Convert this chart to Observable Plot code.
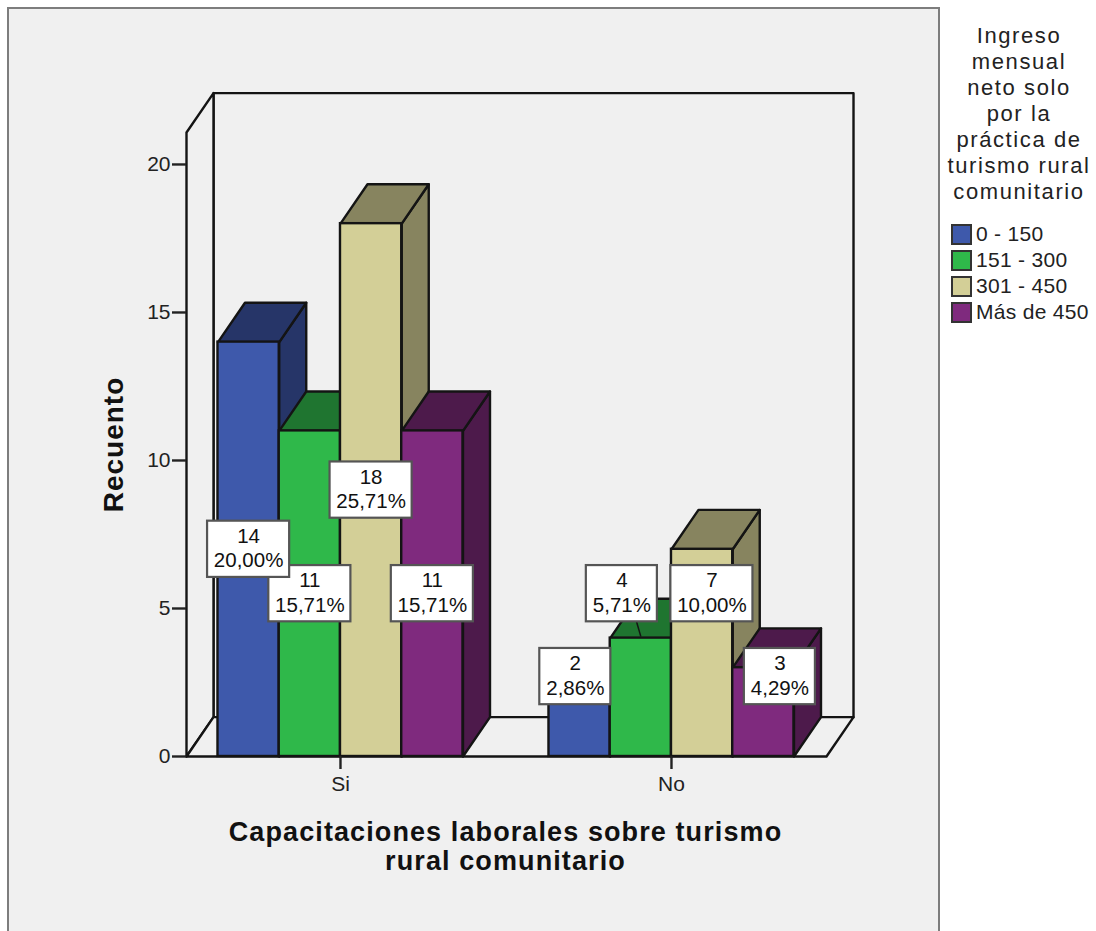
<!DOCTYPE html>
<html>
<head>
<meta charset="utf-8">
<script src="https://cdn.jsdelivr.net/npm/d3@7"></script>
<script src="https://cdn.jsdelivr.net/npm/@observablehq/plot@0.6"></script>
<style>
  html, body { margin: 0; padding: 0; background: #fff; }
  #wrap { position: relative; width: 1096px; height: 931px; overflow: hidden; font-family: "Liberation Sans", Arial, sans-serif; }
  #panel { position: absolute; left: 7px; top: 7px; width: 929px; height: 925px; background: #f0f0f0; border: 2px solid #7d7d7d; box-sizing: content-box; }
  #chart { position: absolute; left: 0; top: 0; }
  #chart svg { display: block; }
  #legend { position: absolute; left: 942px; top: 23px; width: 154px; color: #222; font-size: 21px; }
  #legend .title { text-align: center; line-height: 26px; font-size: 22px; letter-spacing: 1.6px; white-space: nowrap; margin-bottom: 16px; }
  #legend .row { display: flex; align-items: center; height: 26px; margin-left: 9px; letter-spacing: .3px; white-space: nowrap; }
  #legend .sw { width: 17px; height: 17px; border: 2.5px solid #333; margin-right: 4px; flex: none; }
</style>
</head>
<body>
<div id="wrap">
  <div id="panel"></div>
  <div id="chart"></div>
  <div id="legend"></div>
</div>
<script>
const groups = ["Si", "No"];
const groupCenters = [0, 5.404];
const series = ["0 - 150", "151 - 300", "301 - 450", "Más de 450"];
const countsSi = [14, 11, 18, 11];
const countsNo = [2, 4, 7, 3];
const pctSi = ["20,00%", "15,71%", "25,71%", "15,71%"];
const pctNo = ["2,86%", "5,71%", "10,00%", "4,29%"];
const labelShiftSi = [0, 0, 0, 0];
const labelShiftNo = [-0.07, -0.31, 0.16, 0.27];
const labelYNo = [2.7, 5.5, 5.5, 2.7];
const frontColors = ["#3e59ab", "#2fb84a", "#d3cf97", "#7f2a7e"];
const shadeColors = ["#263568", "#1f7530", "#87845f", "#4d1a4b"];
const yTicks = [0, 5, 10, 15, 20];

const depthX = 0.441, depthY = 1.33, yTop = 21.08, xLeft = -2.514, xRight = 7.935;
const edge = "#141414";

const bars = [];
groups.forEach((g, gi) => {
  const counts = gi === 0 ? countsSi : countsNo;
  const pct = gi === 0 ? pctSi : pctNo;
  const shift = gi === 0 ? labelShiftSi : labelShiftNo;
  counts.forEach((v, i) => {
    const x1 = groupCenters[gi] + i - 2;
    bars.push({
      group: g, series: series[i], value: v, x1, x2: x1 + 1, front: frontColors[i], shade: shadeColors[i],
      lx: x1 + 0.5 + shift[i],
      ly: gi === 0 ? v / 2 : labelYNo[i],
      text: `${v}\n${pct[i]}`,
      half: pct[i].length >= 6 ? 0.67 : 0.58
    });
  });
});
const labelsTopFirst = bars.slice().reverse();

const poly = (pts, o) => Plot.line(pts, {x: "0", y: "1", curve: "linear-closed", stroke: edge, strokeWidth: 2.4, ...o});

const barMarks = bars.flatMap(b => [
  poly([[b.x2, 0], [b.x2 + depthX, depthY], [b.x2 + depthX, b.value + depthY], [b.x2, b.value]], {fill: b.shade}),
  poly([[b.x1, b.value], [b.x2, b.value], [b.x2 + depthX, b.value + depthY], [b.x1 + depthX, b.value + depthY]], {fill: b.shade}),
  Plot.rect([b], {x1: "x1", x2: "x2", y1: () => 0, y2: "value", fill: b.front, stroke: edge, strokeWidth: 2.4})
]);

const leaderBar = bars.find(b => b.group === "No" && b.value === 4);

const plot = Plot.plot({
  width: 1096,
  height: 931,
  marginLeft: 186,
  marginRight: 270,
  marginTop: 132,
  marginBottom: 175,
  style: {background: "transparent", fontFamily: "'Liberation Sans', Arial, sans-serif", fontSize: "20px", color: "#222"},
  x: {domain: [xLeft, xRight]},
  y: {domain: [0, yTop]},
  marks: [
    // back wall, side wall and floor of the 3D box
    poly([[xLeft + depthX, depthY], [xRight + depthX, depthY], [xRight + depthX, yTop + depthY], [xLeft + depthX, yTop + depthY]], {fill: "#f0f0f0"}),
    poly([[xLeft, 0], [xLeft, yTop], [xLeft + depthX, yTop + depthY], [xLeft + depthX, depthY]], {fill: "#f0f0f0"}),
    poly([[xLeft, 0], [xRight, 0], [xRight + depthX, depthY], [xLeft + depthX, depthY]], {fill: "#f0f0f0"}),
    ...barMarks,
    Plot.axisY({ticks: yTicks, tickSize: 14, tickPadding: 2, label: null, fontSize: 21, strokeWidth: 2.4, stroke: "#222"}),
    Plot.axisX({ticks: groupCenters, tickFormat: d => groups[groupCenters.indexOf(d)], tickSize: 13, tickPadding: 7, label: null, fontSize: 21, strokeWidth: 2.4, stroke: "#222"}),
    Plot.link([leaderBar], {x1: d => d.lx + 0.31, y1: d => d.value + 0.05, x2: d => d.lx + 0.24, y2: d => d.ly - 0.95, stroke: edge, strokeWidth: 1.5}),
    ...labelsTopFirst.flatMap(b => [
      Plot.rect([b], {
        x1: d => d.lx - d.half, x2: d => d.lx + d.half,
        y1: d => d.ly - 0.95, y2: d => d.ly + 0.95,
        fill: "#fff", stroke: "#555", strokeWidth: 2.2
      }),
      Plot.text([b], {x: "lx", y: "ly", dy: -2, text: "text", fontSize: 20.5, lineHeight: 1.2, fill: "#111"})
    ]),
    Plot.text(["Recuento"], {x: [-3.69], y: [10.54], rotate: -90, fontSize: 28, fontWeight: "bold", fill: "#111"}),
    Plot.text(["Capacitaciones laborales sobre turismo\nrural comunitario"], {x: [2.694], y: [-3.04], fontSize: 27, fontWeight: "bold", lineHeight: 1.04, fill: "#111"})
  ]
});
document.getElementById("chart").appendChild(plot);

d3.select(plot).selectAll("text")
  .filter(function () { return /^(Recuento|Capacitaciones)/.test(this.textContent); })
  .style("letter-spacing", function () { return this.textContent.startsWith("Recuento") ? "1px" : "1.1px"; });

const legendTitle = ["Ingreso", "mensual", "neto solo", "por la", "práctica de", "turismo rural", "comunitario"];
const legend = document.getElementById("legend");
legend.innerHTML = `<div class="title">${legendTitle.join("<br>")}</div>` +
  series.map((s, i) => `<div class="row"><span class="sw" style="background:${frontColors[i]}"></span><span>${s}</span></div>`).join("");
</script>
</body>
</html>
